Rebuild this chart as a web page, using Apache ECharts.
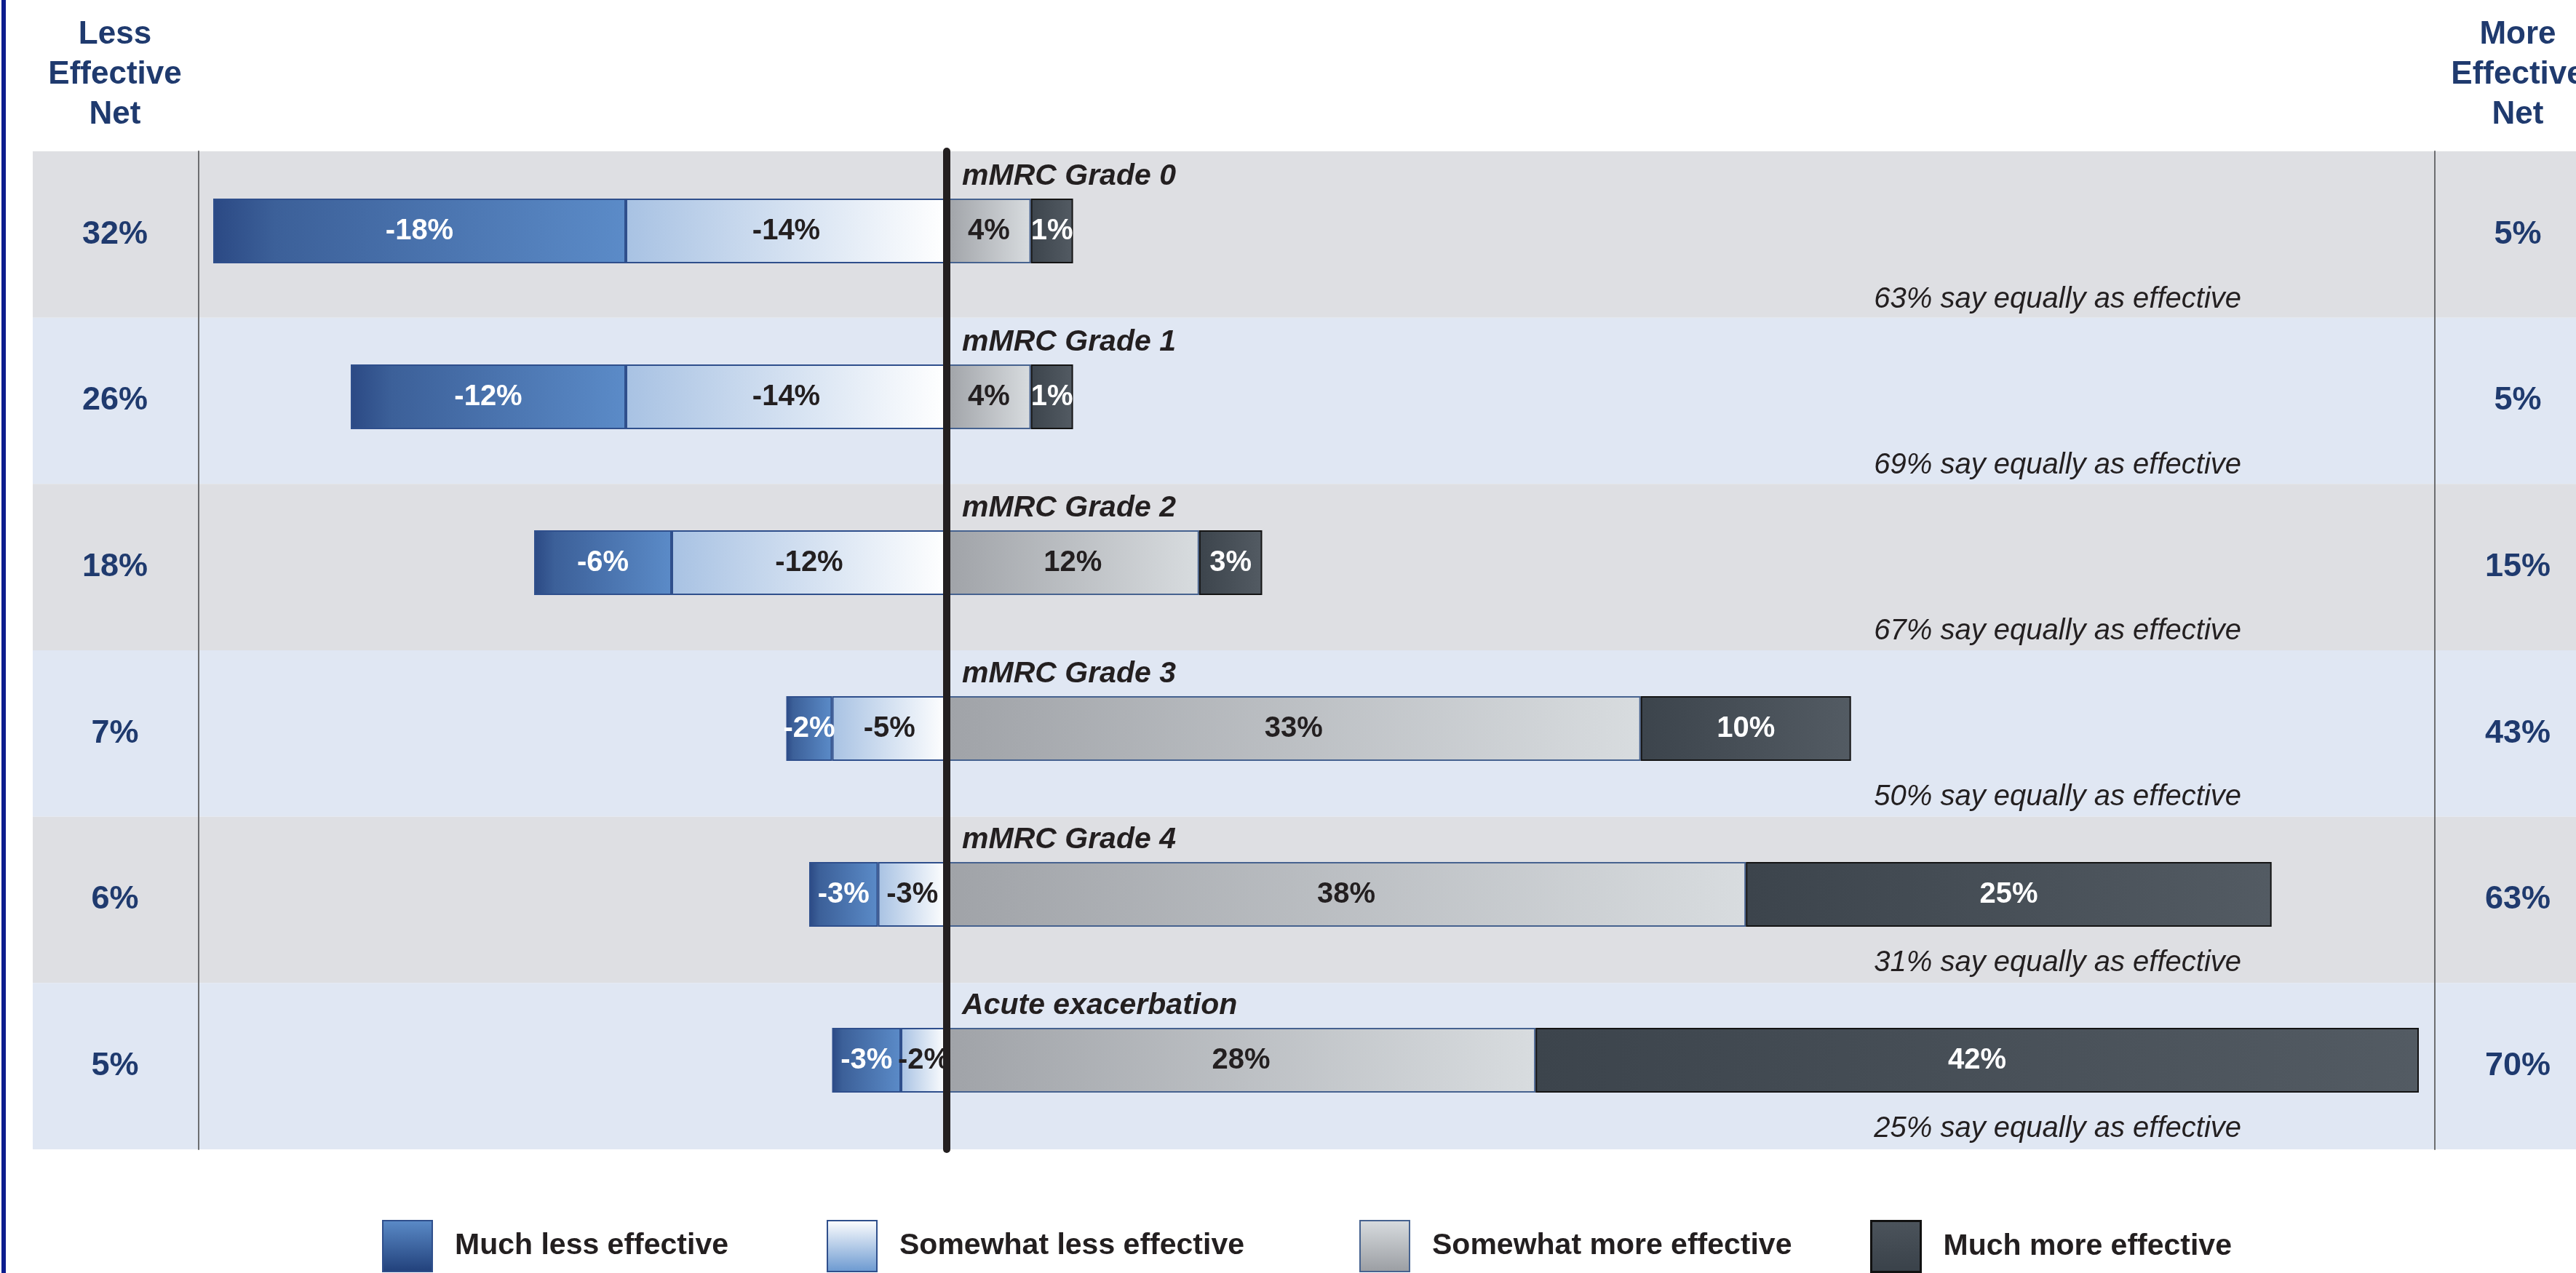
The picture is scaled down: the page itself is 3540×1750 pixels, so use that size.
<!DOCTYPE html>
<html>
<head>
<meta charset="utf-8">
<script src="https://cdn.jsdelivr.net/npm/echarts@6/dist/echarts.min.js"></script>
<style>
html,body{margin:0;padding:0;background:#ffffff;}
#c{width:3540px;height:1750px;position:absolute;left:0;top:0;}
#edge{position:absolute;left:2px;top:0;width:6px;height:1750px;background:#0d1d8e;}
</style>
</head>
<body>
<div id="c"></div>
<div id="edge"></div>
<script>
// ---------------- data ----------------
const categories = ['mMRC Grade 0', 'mMRC Grade 1', 'mMRC Grade 2', 'mMRC Grade 3', 'mMRC Grade 4', 'Acute exacerbation'];
const muchLess = [-18, -12, -6, -2, -3, -3];
const somewhatLess = [-14, -14, -12, -5, -3, -2];
const somewhatMore = [4, 4, 12, 33, 38, 28];
const muchMore = [1, 1, 3, 10, 25, 42];
const lessNet = ['32%', '26%', '18%', '7%', '6%', '5%'];
const moreNet = ['5%', '5%', '15%', '43%', '63%', '70%'];
const equallyShare = [63, 69, 67, 50, 31, 25];
const seriesNames = ['Much less effective', 'Somewhat less effective', 'Somewhat more effective', 'Much more effective'];

// ---------------- layout / style ----------------
const W = 3540;
const FF = '"Liberation Sans", Arial, Helvetica, sans-serif';
const NAVY = '#1f3a6e';
const DARK = '#231f20';
const gridL = 45, zeroX = 1301, negScale = 31.5, posScale = 28.9;
const negMin = -(zeroX - gridL) / negScale, negMax = (W - zeroX) / negScale;
const posMin = -(zeroX - gridL) / posScale, posMax = (W - zeroX) / posScale;

function hgrad(stops) {
  return { type: 'linear', x: 0, y: 0, x2: 1, y2: 0,
    colorStops: stops.map((c, i) => Array.isArray(c) ? { offset: c[0], color: c[1] } : { offset: i / (stops.length - 1), color: c }) };
}
function vgrad(stops) {
  return { type: 'linear', x: 0, y: 0, x2: 0, y2: 1,
    colorStops: stops.map((c, i) => ({ offset: i / (stops.length - 1), color: c })) };
}

const barStyles = {
  'Much less effective': { color: hgrad([[0, '#2b4984'], [0.15, '#3c6099'], [1, '#5b8bc8']]), borderColor: '#2f4f8c', borderWidth: 2 },
  'Somewhat less effective': { color: hgrad(['#a8c2e3', '#ffffff']), borderColor: '#2f4f8c', borderWidth: 2 },
  'Somewhat more effective': { color: hgrad(['#a0a3a8', '#d8dcdf']), borderColor: '#46628f', borderWidth: 2 },
  'Much more effective': { color: hgrad(['#3c444c', '#535b63']), borderColor: '#141414', borderWidth: 2 }
};
const legendStyles = [
  { color: vgrad(['#5b8bc8', '#21407a']), borderColor: '#2f4f8c', borderWidth: 2 },
  { color: vgrad(['#ffffff', '#6a98d0']), borderColor: '#2f4f8c', borderWidth: 2 },
  { color: vgrad(['#d8dcdf', '#9a9da2']), borderColor: '#46628f', borderWidth: 2 },
  { color: vgrad(['#4c545c', '#394149']), borderColor: '#111111', borderWidth: 3 }
];
const legendLeft = [525, 1136, 1868, 2570];

function barSeries(name, data, xIdx, stack, labelColor, extra) {
  return Object.assign({
    name: name, type: 'bar', xAxisIndex: xIdx, yAxisIndex: 5, stack: stack,
    barWidth: 89, barGap: '-100%', data: data,
    itemStyle: barStyles[name],
    label: { show: true, position: 'inside', fontFamily: FF, fontSize: 40, fontWeight: 'bold', color: labelColor,
      formatter: p => p.value + '%' }
  }, extra || {});
}

const catAxisBase = { type: 'category', data: categories, inverse: true, axisTick: { show: false } };

const option = {
  animation: false,
  backgroundColor: '#ffffff',
  title: [
    { text: 'Less\nEffective\nNet', left: 158, top: 20, textAlign: 'center', padding: 0,
      textStyle: { fontFamily: FF, fontSize: 44, fontWeight: 'bold', color: NAVY, lineHeight: 55 } },
    { text: 'More\nEffective\nNet', left: 3460, top: 20, textAlign: 'center', padding: 0,
      textStyle: { fontFamily: FF, fontSize: 44, fontWeight: 'bold', color: NAVY, lineHeight: 55 } }
  ],
  legend: seriesNames.map((n, i) => ({
    data: [{ name: n, itemStyle: legendStyles[i] }],
    left: legendLeft[i], top: 1677, padding: 0, orient: 'horizontal',
    itemWidth: 68, itemHeight: 70, icon: 'rect', selectedMode: false,
    textStyle: { fontFamily: FF, fontSize: 41, fontWeight: 'bold', color: DARK, padding: [0, 0, 0, 26] }
  })),
  grid: [
    { left: gridL, right: 0, top: 208, height: 1372, outerBoundsMode: 'none' },
    { left: gridL, right: 0, top: 203.5, height: 1368, outerBoundsMode: 'none' }
  ],
  xAxis: [
    { type: 'value', gridIndex: 1, min: negMin, max: negMax, show: false },
    { type: 'value', gridIndex: 1, min: posMin, max: posMax, show: false },
    { type: 'value', gridIndex: 0, min: negMin, max: negMax, show: false }
  ],
  yAxis: [
    Object.assign({}, catAxisBase, { gridIndex: 0, position: 'left',
      axisLine: { show: false, onZero: false },
      splitArea: { show: true, areaStyle: { color: ['#dedfe3', '#e0e7f3'] } },
      axisLabel: { inside: true, margin: 113, align: 'center', formatter: (v, i) => lessNet[i],
        fontFamily: FF, fontSize: 45, fontWeight: 'bold', color: NAVY } }),
    Object.assign({}, catAxisBase, { gridIndex: 0, position: 'right',
      axisLine: { show: false, onZero: false },
      axisLabel: { inside: true, margin: 80, align: 'center', formatter: (v, i) => moreNet[i],
        fontFamily: FF, fontSize: 45, fontWeight: 'bold', color: NAVY } }),
    Object.assign({}, catAxisBase, { gridIndex: 0, position: 'left', offset: -228,
      axisLine: { show: true, onZero: false, lineStyle: { color: '#6d6e71', width: 2 } },
      axisLabel: { show: false } }),
    Object.assign({}, catAxisBase, { gridIndex: 0, position: 'right', offset: -194,
      axisLine: { show: true, onZero: false, lineStyle: { color: '#6d6e71', width: 2 } },
      axisLabel: { show: false } }),
    Object.assign({}, catAxisBase, { gridIndex: 0, position: 'left', z: 10,
      axisLine: { show: true, onZero: true, onZeroAxisIndex: 2, lineStyle: { color: DARK, width: 10 } },
      axisLabel: { show: false } }),
    Object.assign({}, catAxisBase, { gridIndex: 1, show: false })
  ],
  series: [
    barSeries('Somewhat less effective', somewhatLess, 0, 'neg', DARK),
    barSeries('Much less effective', muchLess, 0, 'neg', '#ffffff'),
    barSeries('Somewhat more effective', somewhatMore, 1, 'pos', DARK),
    barSeries('Much more effective', muchMore, 1, 'pos', '#ffffff', { barMinHeight: 58 }),
    {
      type: 'scatter', xAxisIndex: 0, yAxisIndex: 5, symbolSize: 0.1, silent: true,
      itemStyle: { color: 'rgba(0,0,0,0)', opacity: 1 },
      data: categories.map((c, i) => ({ name: c, value: [0, i] })),
      label: { show: true, position: 'right', distance: 21, offset: [0, -75], opacity: 1,
        formatter: p => p.name, fontFamily: FF, fontSize: 41, fontStyle: 'italic', fontWeight: 'bold', color: DARK }
    },
    {
      type: 'scatter', xAxisIndex: 0, yAxisIndex: 5, symbolSize: 0.1, silent: true,
      itemStyle: { color: 'rgba(0,0,0,0)', opacity: 1 },
      data: equallyShare.map((v, i) => ({ name: categories[i], value: [0, i] })),
      label: { show: true, position: 'right', distance: 0, align: 'right', offset: [1779, 94], opacity: 1,
        formatter: p => equallyShare[p.dataIndex] + '% say equally as effective',
        fontFamily: FF, fontSize: 40, fontStyle: 'italic', fontWeight: 'normal', color: DARK }
    }
  ]
};

const chart = echarts.init(document.getElementById('c'), null, { renderer: 'canvas', width: 3540, height: 1750 });
chart.setOption(option);
</script>
</body>
</html>
